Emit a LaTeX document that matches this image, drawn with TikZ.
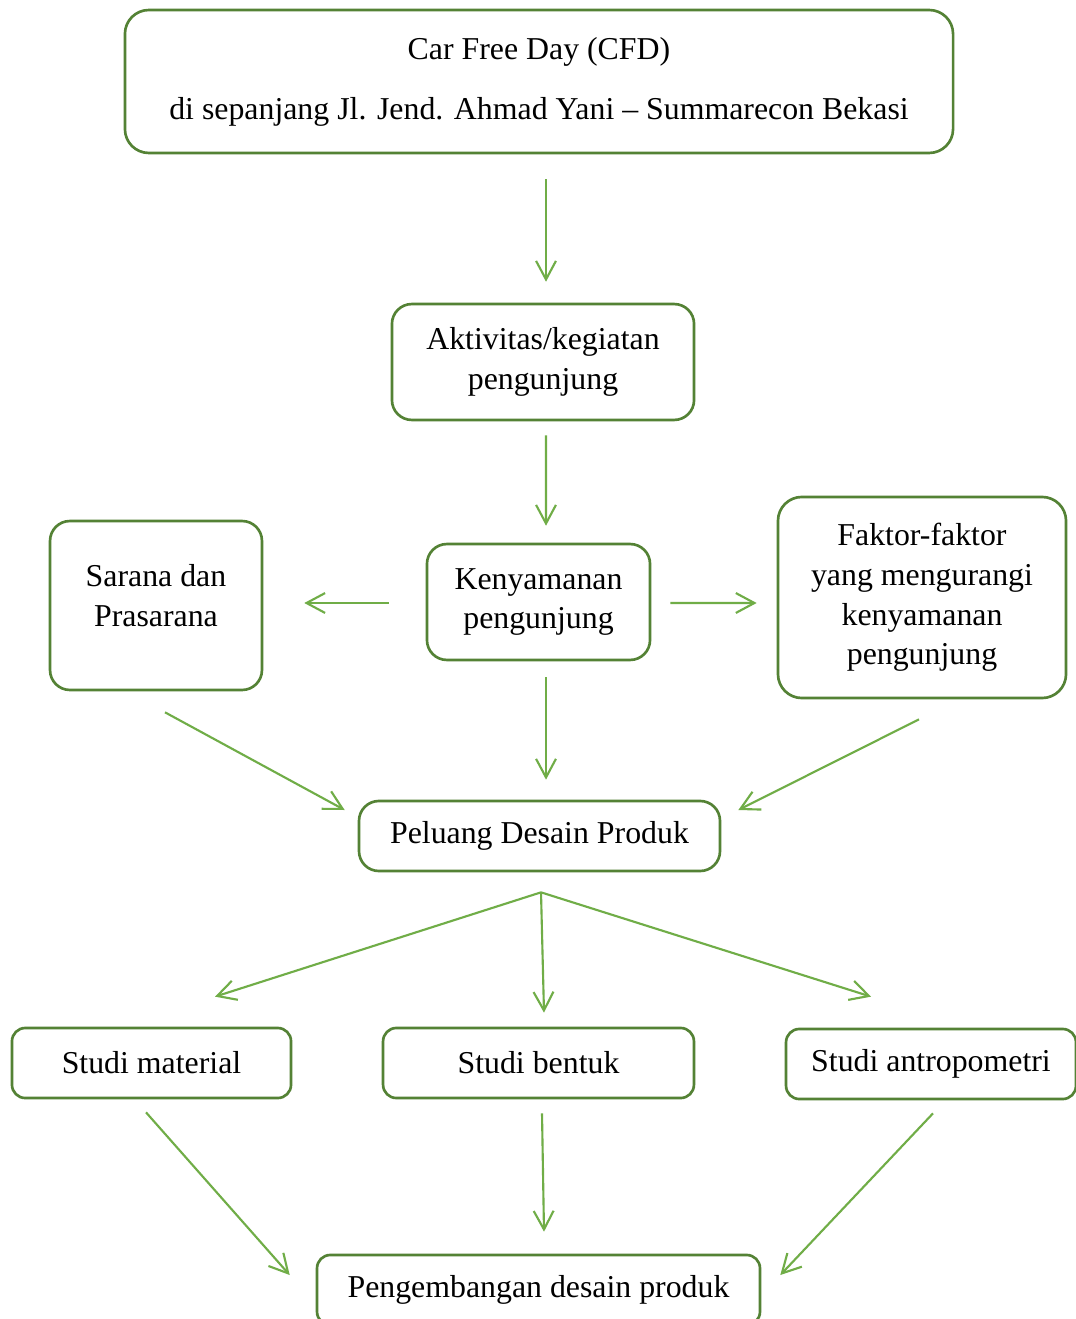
\documentclass[tikz,border=0pt]{standalone}
\usepackage{fontspec}
\setmainfont{Liberation Serif}
\usepackage{tikz}
\usetikzlibrary{arrows.meta}
\usetikzlibrary{shapes,positioning}
\definecolor{boxgreen}{RGB}{84,130,53}
\definecolor{arrowgreen}{RGB}{112,173,71}
\tikzset{>={Straight Barb[length=7pt,width=7.5pt]},
  box/.style={draw=boxgreen,line width=1pt,rounded corners=7.5pt,
    align=center,inner sep=0pt,font=\fontsize{12}{15}\selectfont},
  arrow/.style={->,draw=arrowgreen,line width=0.8pt}}

\begin{document}
\begin{tikzpicture}[x=0.377pt,y=-0.377pt]
    \useasboundingbox[fill=white] (0,0) rectangle (1075,1319);

    \node (cfd) [box,minimum width=312.2pt,minimum height=53.9pt,rounded corners=9pt] at (539,81.5)
      {Car Free Day (CFD)\\[7.6pt]di sepanjang Jl. Jend. Ahmad Yani -- Summarecon Bekasi};
    \node (akt) [box,minimum width=113.9pt,minimum height=43.7pt] at (543,362)
      {Aktivitas/kegiatan\\pengunjung};
    \node (ken) [box,minimum width=84.1pt,minimum height=43.7pt] at (538.5,602)
      {Kenyamanan\\pengunjung};
    \node (sarana) [box,minimum width=79.9pt,minimum height=63.7pt] at (156,605.5)
      {Sarana dan\\Prasarana\\[-7.4pt]\mbox{}};
    \node (faktor) [box,minimum width=108.6pt,minimum height=75.8pt,rounded corners=9pt] at (922,597.5)
      {Faktor-faktor\\yang mengurangi\\kenyamanan\\pengunjung};
    \node (peluang) [box,minimum width=136.1pt,minimum height=26.4pt] at (539.5,836)
      {Peluang Desain Produk};
    \node (material) [box,minimum width=105.2pt,minimum height=26.4pt,rounded corners=5pt] at (151.5,1063)
      {Studi material};
    \node (bentuk) [box,minimum width=117.2pt,minimum height=26.4pt,rounded corners=5pt] at (538.5,1063)
      {Studi bentuk};
    \node (antro) [box,minimum width=109.3pt,minimum height=26.4pt,rounded corners=5pt] at (931,1064)
      {Studi antropometri};
    \node (peng) [box,minimum width=167pt,minimum height=26.4pt,rounded corners=5pt] at (538.5,1290)
      {Pengembangan desain produk};

    \coordinate (split) at ([shift={(1.5,20)}]peluang.south);

    \draw[arrow] ([shift={(7,25)}]cfd.south) -- ([shift={(3,-21)}]akt.north);
    \draw[arrow] ([shift={(3,14)}]akt.south) -- ([shift={(7.5,-17)}]ken.north);
    \draw[arrow] ([shift={(-37,1)}]ken.west) -- ([shift={(41,-2.5)}]sarana.east);
    \draw[arrow] ([shift={(19,1)}]ken.east) -- ([shift={(-20,5.5)}]faktor.west);
    \draw[arrow] ([shift={(7.5,16)}]ken.south) -- ([shift={(6.5,-20)}]peluang.north);
    \draw[arrow] ([shift={(9,21)}]sarana.south) -- ([shift={(-13,-26)}]peluang.west);
    \draw[arrow] ([shift={(-3,20)}]faktor.south) -- ([shift={(17,-26)}]peluang.east);

    \draw[arrow] (split) -- ([shift={(63.5,-30)}]material.north);
    \draw[arrow] (split) -- ([shift={(5.5,-14)}]bentuk.north);
    \draw[arrow] (split) -- ([shift={(-60,-31)}]antro.north);

    \draw[arrow] ([shift={(-5.5,13)}]material.south) -- ([shift={(-26,-15)}]peng.west);
    \draw[arrow] ([shift={(3.5,14)}]bentuk.south) -- ([shift={(5.5,-22)}]peng.north);
    \draw[arrow] ([shift={(2,13)}]antro.south) -- ([shift={(19,-15)}]peng.east);
  \end{tikzpicture}
\end{document}
